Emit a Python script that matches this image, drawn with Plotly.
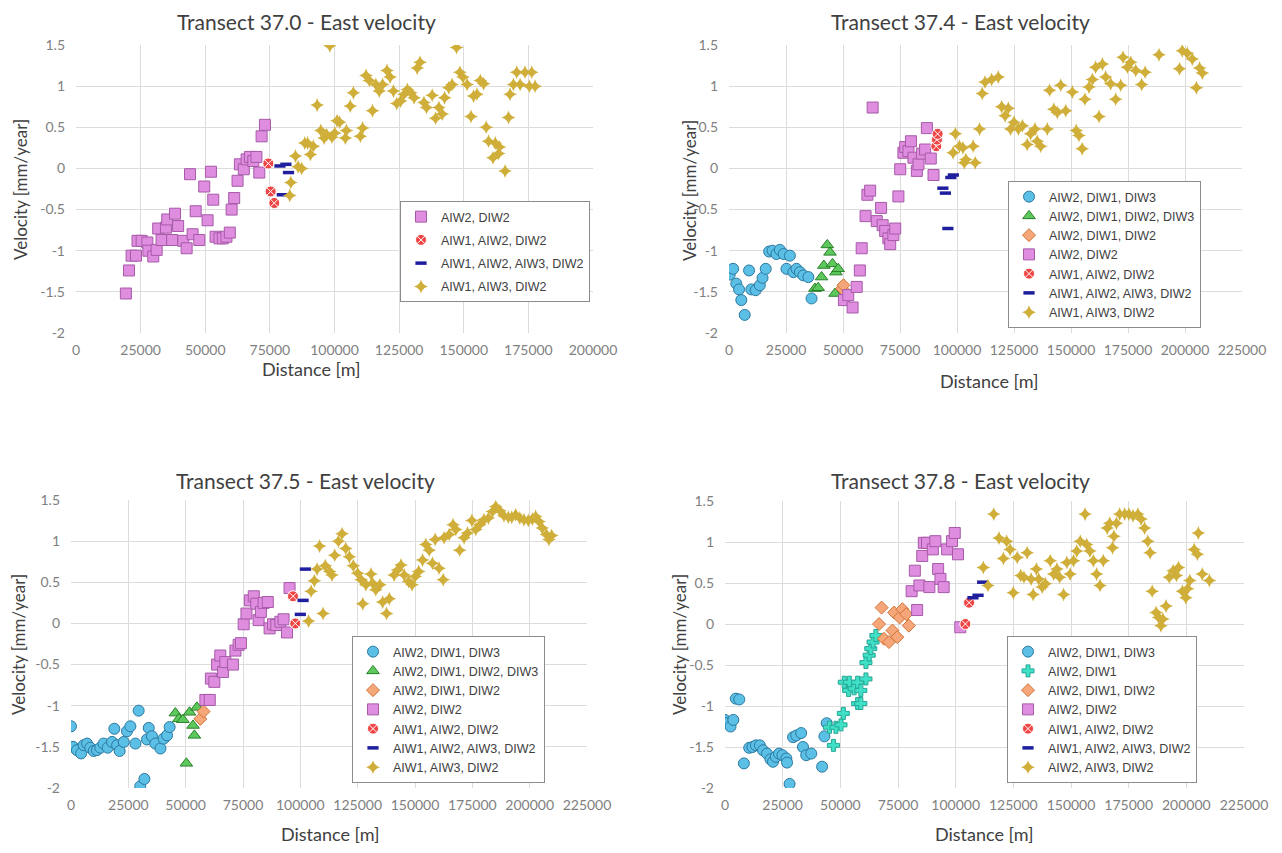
import plotly.graph_objects as go

# ---------------- DATA ----------------
# Transect 37.0
t370_aiw2_diw2_x = [19300, 20500, 21500, 23200, 23800, 25400, 27600, 28000, 29900, 31200, 31800, 33100, 34800, 35300, 37200, 38300, 39500, 41500, 42800, 44100, 45100, 46300, 47700, 49600, 50900, 52200, 53100, 54000, 55500, 56800, 58200, 59500, 60200, 61200, 62500, 63400, 64900, 66000, 67300, 68600, 69800, 70900, 71800, 73100]
t370_aiw2_diw2_y = [-1.52, -1.24, -1.06, -1.06, -0.88, -0.88, -0.90, -1.00, -1.07, -0.99, -0.73, -0.87, -0.72, -0.62, -0.87, -0.55, -0.70, -0.88, -0.97, -0.07, -0.80, -0.52, -0.87, -0.22, -0.63, -0.04, -0.38, -0.83, -0.85, -0.85, -0.83, -0.78, -0.50, -0.36, -0.15, 0.05, -0.01, 0.11, 0.14, 0.09, 0.14, -0.05, 0.39, 0.53]
t370_aiw1_aiw2_diw2_x = [74400, 75300, 76700]
t370_aiw1_aiw2_diw2_y = [0.06, -0.28, -0.42]
t370_aiw123_diw2_x = [78900, 79800, 81200, 82200]
t370_aiw123_diw2_y = [0.03, -0.32, 0.05, -0.05]
t370_aiw1_aiw3_diw2_x = [82700, 83100, 84900, 85900, 87300, 88500, 89600, 90700, 91800, 93300, 94700, 96000, 97000, 98200, 99000, 100100, 101000, 102000, 104200, 104600, 106100, 107300, 110000, 110900, 112200, 113500, 114700, 116000, 117300, 118600, 120300, 121500, 122800, 124100, 125600, 126900, 128200, 129500, 130800, 132000, 133100, 134600, 135600, 137800, 139100, 140400, 141700, 142600, 144200, 145500, 147200, 148500, 149700, 151300, 152800, 153800, 155100, 156400, 157700, 158700, 159600, 161300, 162200, 163500, 163800, 166000, 167300, 167900, 169200, 170500, 171800, 173700, 175400, 176300, 177600]
t370_aiw1_aiw3_diw2_y = [-0.33, -0.17, 0.15, 0.02, 0.00, 0.31, 0.31, 0.17, 0.27, 0.77, 0.46, 0.37, 0.41, 1.49, 0.38, 0.43, 0.58, 0.56, 0.37, 0.46, 0.76, 0.92, 0.39, 0.49, 1.13, 1.07, 0.70, 1.02, 0.94, 1.02, 1.19, 1.11, 0.94, 0.79, 0.82, 0.90, 0.96, 0.92, 0.86, 1.22, 1.29, 0.80, 0.74, 0.89, 0.61, 0.74, 0.66, 0.86, 0.98, 1.02, 1.47, 1.17, 1.11, 1.02, 0.63, 0.88, 0.90, 1.07, 1.03, 0.50, 0.33, 0.13, 0.31, 0.18, 0.26, -0.03, 0.62, 0.90, 1.02, 1.17, 1.02, 1.17, 1.00, 1.17, 1.00]

# Transect 37.4
t374_aiw2_diw1_diw3_x = [300, 1800, 3200, 4400, 5400, 6900, 8800, 9800, 11700, 13500, 14700, 16100, 17600, 19100, 20800, 22300, 24000, 25200, 26700, 28200, 29600, 31100, 32600, 34800, 36200]
t374_aiw2_diw1_diw3_y = [-1.29, -1.22, -1.40, -1.47, -1.60, -1.78, -1.24, -1.47, -1.48, -1.42, -1.33, -1.22, -1.01, -1.00, -1.04, -0.99, -1.04, -1.22, -1.06, -1.26, -1.22, -1.26, -1.30, -1.32, -1.58]
t374_aiw2_diw123_x = [37700, 39100, 40600, 41600, 43100, 44300, 45400, 46500, 46900, 47900]
t374_aiw2_diw123_y = [-1.46, -1.45, -1.32, -1.18, -0.93, -1.02, -1.16, -1.52, -1.26, -1.22]
t374_aiw2_diw1_diw2_x = [49600, 50200]
t374_aiw2_diw1_diw2_y = [-1.46, -1.42]
t374_aiw2_diw2_x = [50400, 52300, 54200, 56000, 57400, 58200, 59900, 60700, 61900, 63000, 64800, 66700, 67400, 68500, 69900, 70700, 72100, 72900, 74300, 75100, 76500, 77300, 78700, 79800, 80900, 82400, 83100, 84600, 86000, 86800, 88500, 89700]
t374_aiw2_diw2_y = [-1.60, -1.54, -1.69, -1.44, -1.24, -0.97, -0.58, -0.32, -0.27, 0.74, -0.64, -0.48, -0.69, -0.76, -0.85, -0.92, -0.81, -0.73, -0.34, -0.01, 0.19, 0.26, 0.21, 0.33, 0.13, -0.03, 0.05, 0.18, 0.23, 0.49, 0.12, -0.08]
t374_aiw1_aiw2_diw2_x = [90900, 91200, 91500]
t374_aiw1_aiw2_diw2_y = [0.27, 0.35, 0.42]
t374_aiw123_diw2_x = [93800, 94900, 96000, 97300, 98400]
t374_aiw123_diw2_y = [-0.24, -0.30, -0.73, -0.11, -0.08]
t374_aiw1_aiw3_diw2_x = [98300, 99300, 101100, 102600, 103200, 103900, 107100, 108000, 109900, 111100, 112300, 115200, 118100, 119600, 121100, 122500, 123500, 125000, 126900, 128700, 130800, 132300, 134200, 135200, 136700, 139600, 140600, 142500, 144000, 145500, 147700, 150600, 152300, 153500, 154900, 156100, 157900, 159400, 160800, 162300, 163800, 165200, 167400, 169600, 171800, 172800, 174700, 176200, 178400, 181000, 182500, 188600, 197600, 198800, 201000, 203200, 205000, 206400, 207600]
t374_aiw1_aiw3_diw2_y = [0.19, 0.42, 0.27, 0.25, 0.07, 0.11, 0.27, 0.07, 0.48, 0.91, 1.05, 1.08, 1.11, 0.75, 0.64, 0.73, 0.48, 0.56, 0.48, 0.52, 0.29, 0.42, 0.48, 0.33, 0.27, 0.48, 0.95, 0.72, 0.68, 1.01, 0.70, 0.93, 0.46, 0.40, 0.24, 0.84, 0.99, 1.08, 1.23, 0.63, 1.27, 1.11, 1.03, 0.84, 1.01, 1.35, 1.23, 1.29, 1.19, 1.02, 1.17, 1.38, 1.21, 1.43, 1.40, 1.33, 0.98, 1.22, 1.16]

# Transect 37.5
t375_aiw2_diw1_diw3_x = [0, 900, 2600, 4400, 5500, 7000, 8400, 9900, 11300, 12800, 14200, 16000, 17900, 18900, 20100, 21200, 23000, 24400, 25900, 28100, 29500, 30200, 32000, 33100, 33900, 35300, 36800, 39000, 40400, 41900, 43000]
t375_aiw2_diw1_diw3_y = [-1.25, -1.50, -1.54, -1.58, -1.48, -1.46, -1.51, -1.55, -1.54, -1.51, -1.46, -1.51, -1.44, -1.28, -1.48, -1.55, -1.44, -1.31, -1.25, -1.46, -1.06, -1.98, -1.89, -1.41, -1.27, -1.37, -1.46, -1.52, -1.40, -1.36, -1.26]
t375_aiw2_diw123_x = [45500, 47000, 48800, 50300, 51700, 53200, 53800, 54900]
t375_aiw2_diw123_y = [-1.09, -1.16, -1.17, -1.70, -1.08, -1.24, -1.36, -1.02]
t375_aiw2_diw1_diw2_x = [56400, 57800]
t375_aiw2_diw1_diw2_y = [-1.16, -1.07]
t375_aiw2_diw2_x = [58600, 60500, 61000, 62500, 63700, 65100, 66300, 67300, 70600, 71700, 73100, 74100, 75300, 76500, 78000, 79700, 80800, 81800, 82800, 84000, 85800, 86600, 88100, 89500, 91300, 92700, 94200, 95300]
t375_aiw2_diw2_y = [-0.93, -0.93, -0.67, -0.71, -0.50, -0.39, -0.59, -0.47, -0.50, -0.33, -0.26, -0.24, -0.01, 0.12, 0.28, 0.33, 0.24, 0.04, 0.14, 0.25, 0.26, -0.06, -0.01, -0.02, 0.02, 0.05, -0.11, 0.43]
t375_aiw1_aiw2_diw2_x = [96800, 97800]
t375_aiw1_aiw2_diw2_y = [0.33, 0.00]
t375_aiw123_diw2_x = [100000, 101200, 102200]
t375_aiw123_diw2_y = [0.11, 0.28, 0.66]
t375_aiw1_aiw3_diw2_x = [103600, 104700, 106100, 107300, 108400, 109900, 110900, 112800, 113800, 115000, 116600, 118200, 119800, 121400, 123100, 125000, 126500, 127200, 128600, 130800, 131500, 132900, 134700, 135900, 137600, 138800, 140900, 142400, 143900, 145300, 147200, 148700, 150100, 151600, 153300, 154700, 156200, 157600, 158800, 160500, 162300, 162700, 164900, 166600, 167800, 169500, 171400, 172900, 174800, 176500, 178200, 180100, 182000, 183800, 185200, 187000, 188800, 190700, 192200, 193900, 195700, 197500, 199400, 201200, 202600, 204100, 205500, 207300, 208400, 209600]
t375_aiw1_aiw3_diw2_y = [0.03, 0.39, 0.52, 0.66, 0.94, 0.12, 0.70, 0.63, 0.59, 0.83, 1.00, 1.09, 0.91, 0.81, 0.70, 0.61, 0.53, 0.24, 0.47, 0.60, 0.49, 0.41, 0.47, 0.26, 0.12, 0.30, 0.59, 0.65, 0.71, 0.59, 0.51, 0.47, 0.57, 0.63, 0.77, 0.96, 0.89, 0.73, 1.02, 0.67, 0.53, 1.04, 1.08, 1.20, 1.14, 0.89, 1.04, 1.10, 1.25, 1.14, 1.20, 1.26, 1.28, 1.36, 1.42, 1.37, 1.31, 1.29, 1.29, 1.32, 1.28, 1.26, 1.25, 1.27, 1.30, 1.24, 1.16, 1.08, 1.02, 1.07]

# Transect 37.8
t378_aiw2_diw1_diw3_x = [0, 700, 2400, 3600, 4700, 6200, 8200, 10500, 11900, 13400, 15100, 16500, 18200, 19700, 20800, 22000, 23400, 24900, 26600, 26900, 28000, 29500, 30900, 33000, 33800, 35200, 37400, 42100, 43100, 44100]
t378_aiw2_diw1_diw3_y = [-1.17, -1.21, -1.25, -1.17, -0.91, -0.92, -1.70, -1.51, -1.50, -1.48, -1.48, -1.54, -1.58, -1.65, -1.68, -1.62, -1.58, -1.60, -1.64, -1.69, -1.95, -1.38, -1.36, -1.33, -1.50, -1.60, -1.58, -1.74, -1.37, -1.21]
t378_aiw2_diw1_x = [45300, 47000, 48100, 50300, 51300, 51700, 53600, 53900, 56000, 57500, 57500, 58900, 58900, 61100, 61100, 62500, 63200, 64200, 65400]
t378_aiw2_diw1_y = [-1.26, -1.48, -1.26, -1.23, -1.09, -0.71, -0.81, -0.71, -0.79, -0.97, -0.71, -0.97, -0.81, -0.67, -0.47, -0.38, -0.30, -0.22, -0.14]
t378_aiw2_diw1_diw2_x = [66800, 67900, 68900, 71100, 72600, 73300, 74700, 75700, 76900, 78600, 79700]
t378_aiw2_diw1_diw2_y = [0.00, 0.20, -0.18, -0.22, -0.08, 0.14, -0.16, 0.08, 0.18, 0.12, -0.02]
t378_aiw2_diw2_x = [80900, 82300, 83300, 84300, 85500, 86200, 87600, 88600, 90100, 91200, 92400, 93400, 94800, 96300, 98400, 99600, 101000, 102000]
t378_aiw2_diw2_y = [0.40, 0.65, 0.17, 0.47, 0.83, 0.99, 0.99, 0.45, 0.91, 1.01, 0.67, 0.55, 0.45, 0.91, 1.01, 1.11, 0.85, -0.04]
t378_aiw1_aiw2_diw2_x = [104200, 105800]
t378_aiw1_aiw2_diw2_y = [0.00, 0.26]
t378_aiw123_diw2_x = [107500, 109700, 111700]
t378_aiw123_diw2_y = [0.32, 0.35, 0.51]
t378_aiw2_aiw3_diw2_x = [112000, 114000, 116500, 118800, 120700, 122100, 123600, 125000, 126700, 128200, 129600, 131000, 132700, 133600, 135000, 136000, 137500, 138900, 141000, 142500, 143900, 145100, 146800, 148200, 149600, 151100, 152500, 154000, 156100, 156800, 158200, 159700, 161100, 162600, 164000, 165700, 166800, 168000, 168600, 169700, 171100, 173300, 175100, 176900, 179000, 180400, 181900, 183300, 184300, 185200, 186900, 188000, 189000, 189800, 191200, 192600, 194300, 195700, 196600, 198300, 199800, 200500, 201500, 203400, 204800, 205200, 206900, 210000]
t378_aiw2_aiw3_diw2_y = [0.69, 0.47, 1.34, 1.05, 0.80, 1.01, 0.91, 0.38, 0.81, 0.59, 0.57, 0.87, 0.55, 0.36, 0.67, 0.55, 0.45, 0.49, 0.77, 0.61, 0.67, 0.57, 0.36, 0.75, 0.61, 0.77, 0.89, 1.01, 1.34, 0.97, 0.89, 0.77, 0.61, 0.47, 0.77, 1.17, 1.23, 0.93, 1.07, 1.23, 1.34, 1.34, 1.34, 1.32, 1.34, 1.28, 1.17, 1.01, 0.87, 0.40, 0.14, 0.08, -0.02, 0.06, 0.22, 0.57, 0.65, 0.59, 0.69, 0.40, 0.32, 0.43, 0.53, 0.91, 0.85, 1.11, 0.61, 0.53]

panel_titles = ["Transect 37.0 - East velocity", "Transect 37.4 - East velocity",
                "Transect 37.5 - East velocity", "Transect 37.8 - East velocity"]
y_tickvals = [-2, -1.5, -1, -0.5, 0, 0.5, 1, 1.5]
y_ticktext = ["-2", "-1.5", "-1", "-0.5", "0", "0.5", "1", "1.5"]
x_title = "Distance [m]"
y_title = "Velocity [mm/year]"

# ---------------- STYLES ----------------
STY = {
    "circ": dict(symbol="circle", size=11, color="#5BBFE6", line=dict(color="#2B79A0", width=1)),
    "tri": dict(symbol="triangle-up", size=11, color="#5DC95D", line=dict(color="#2A7F2A", width=1)),
    "dia": dict(symbol="diamond", size=10, color="#F5A779", line=dict(color="#D2743A", width=1)),
    "sq": dict(symbol="square", size=11, color="#DF8EDF", line=dict(color="#A65AA8", width=1)),
    "rx": dict(symbol="circle-x", size=11, color="#F04545", line=dict(color="#FFFFFF", width=1)),
    "dash": dict(symbol="line-ew", size=8, color="#1E1E9E", line=dict(color="#1E1E9E", width=3.5)),
    "gold": dict(symbol="star-diamond", size=10, color="#CFAE3A", line=dict(width=0)),
    "teal": dict(symbol="cross", size=10, color="#3FE0C6", line=dict(color="#25A897", width=1)),
}

panels = [
    [("AIW2, DIW2", t370_aiw2_diw2_x, t370_aiw2_diw2_y, "sq"),
     ("AIW1, AIW2, DIW2", t370_aiw1_aiw2_diw2_x, t370_aiw1_aiw2_diw2_y, "rx"),
     ("AIW1, AIW2, AIW3, DIW2", t370_aiw123_diw2_x, t370_aiw123_diw2_y, "dash"),
     ("AIW1, AIW3, DIW2", t370_aiw1_aiw3_diw2_x, t370_aiw1_aiw3_diw2_y, "gold")],
    [("AIW2, DIW1, DIW3", t374_aiw2_diw1_diw3_x, t374_aiw2_diw1_diw3_y, "circ"),
     ("AIW2, DIW1, DIW2, DIW3", t374_aiw2_diw123_x, t374_aiw2_diw123_y, "tri"),
     ("AIW2, DIW1, DIW2", t374_aiw2_diw1_diw2_x, t374_aiw2_diw1_diw2_y, "dia"),
     ("AIW2, DIW2", t374_aiw2_diw2_x, t374_aiw2_diw2_y, "sq"),
     ("AIW1, AIW2, DIW2", t374_aiw1_aiw2_diw2_x, t374_aiw1_aiw2_diw2_y, "rx"),
     ("AIW1, AIW2, AIW3, DIW2", t374_aiw123_diw2_x, t374_aiw123_diw2_y, "dash"),
     ("AIW1, AIW3, DIW2", t374_aiw1_aiw3_diw2_x, t374_aiw1_aiw3_diw2_y, "gold")],
    [("AIW2, DIW1, DIW3", t375_aiw2_diw1_diw3_x, t375_aiw2_diw1_diw3_y, "circ"),
     ("AIW2, DIW1, DIW2, DIW3", t375_aiw2_diw123_x, t375_aiw2_diw123_y, "tri"),
     ("AIW2, DIW1, DIW2", t375_aiw2_diw1_diw2_x, t375_aiw2_diw1_diw2_y, "dia"),
     ("AIW2, DIW2", t375_aiw2_diw2_x, t375_aiw2_diw2_y, "sq"),
     ("AIW1, AIW2, DIW2", t375_aiw1_aiw2_diw2_x, t375_aiw1_aiw2_diw2_y, "rx"),
     ("AIW1, AIW2, AIW3, DIW2", t375_aiw123_diw2_x, t375_aiw123_diw2_y, "dash"),
     ("AIW1, AIW3, DIW2", t375_aiw1_aiw3_diw2_x, t375_aiw1_aiw3_diw2_y, "gold")],
    [("AIW2, DIW1, DIW3", t378_aiw2_diw1_diw3_x, t378_aiw2_diw1_diw3_y, "circ"),
     ("AIW2, DIW1", t378_aiw2_diw1_x, t378_aiw2_diw1_y, "teal"),
     ("AIW2, DIW1, DIW2", t378_aiw2_diw1_diw2_x, t378_aiw2_diw1_diw2_y, "dia"),
     ("AIW2, DIW2", t378_aiw2_diw2_x, t378_aiw2_diw2_y, "sq"),
     ("AIW1, AIW2, DIW2", t378_aiw1_aiw2_diw2_x, t378_aiw1_aiw2_diw2_y, "rx"),
     ("AIW1, AIW2, AIW3, DIW2", t378_aiw123_diw2_x, t378_aiw123_diw2_y, "dash"),
     ("AIW2, AIW3, DIW2", t378_aiw2_aiw3_diw2_x, t378_aiw2_aiw3_diw2_y, "gold")],
]

# The page body has an 8px margin, so the figure is 16px smaller than the window
OFF = 8
W, H = 1282 - 2 * OFF, 853 - 2 * OFF
def px(x): return (x - OFF) / W
def py(y): return 1 - (y - OFF) / H

# plot areas in window pixels: (left, right, top, bottom), x max
areas = [(76, 593, 45, 333, 200000), (729, 1242, 45, 333, 225000),
         (71, 587, 500, 788, 225000), (725, 1244, 501, 788, 225000)]
legend_pos = [(400, 201), (1008, 181), (352, 636), (1007, 636)]
title_pos = [(306, 21.5), (960, 21.5), (305, 480), (960, 480)]
xtitle_pos = [(311, 369), (989, 381), (330, 834), (984, 834)]
ytitle_pos = [(20, 190), (689, 190), (18, 645), (679, 645)]

fig = go.Figure()
layout = dict(width=W, height=H, autosize=False,
              margin=dict(l=0, r=0, t=0, b=0, pad=0, autoexpand=False),
              paper_bgcolor="white", plot_bgcolor="white", annotations=[])

for i, series in enumerate(panels):
    n = i + 1
    xa = "x" if n == 1 else f"x{n}"
    ya = "y" if n == 1 else f"y{n}"
    lg = "legend" if n == 1 else f"legend{n}"
    for j, (name, xs, ys, st) in enumerate(series):
        s = STY[st]
        fig.add_trace(go.Scatter(
            x=xs, y=ys, mode="markers", name=name, xaxis=xa, yaxis=ya, legend=lg,
            legendgroup=f"p{n}g{j}" if n == 1 else None,
            marker=dict(symbol=s["symbol"], size=s["size"], color=s["color"], line=s["line"]),
        ))
    l, r, t, b, xmax = areas[i]
    key_x = "xaxis" if n == 1 else f"xaxis{n}"
    key_y = "yaxis" if n == 1 else f"yaxis{n}"
    layout[key_x] = dict(domain=[px(l), px(r)], anchor=ya, range=[0, xmax], dtick=25000,
                         tick0=0, tickformat="d", showgrid=True, gridcolor="#DCDCDC",
                         zeroline=False, showline=False, ticks="", automargin=False,
                         tickfont=dict(family="Lato", size=14, color="#7F7F7F"),
                         ticklabelstandoff=7)
    layout[key_y] = dict(domain=[py(b), py(t)], anchor=xa, range=[-2, 1.5],
                         tickvals=y_tickvals, ticktext=y_ticktext, showgrid=True,
                         gridcolor="#DCDCDC", zeroline=False, showline=False, ticks="",
                         automargin=False,
                         tickfont=dict(family="Lato", size=14, color="#7F7F7F"),
                         ticklabelstandoff=10)
    lx, ly = legend_pos[i]
    layout[lg] = dict(x=px(lx), y=py(ly), xanchor="left", yanchor="top",
                      bgcolor="white", bordercolor="#8C8C8C", borderwidth=1,
                      font=dict(family="Liberation Sans", size=12.5, color="#404040"),
                      tracegroupgap=4 if n == 1 else 0, itemwidth=30)
    tx, ty = title_pos[i]
    layout["annotations"].append(dict(text=panel_titles[i], x=px(tx), y=py(ty), xref="paper",
                                      yref="paper", showarrow=False, xanchor="center",
                                      yanchor="middle",
                                      font=dict(family="Lato", size=21, color="#404040")))
    ax_, ay_ = xtitle_pos[i]
    layout["annotations"].append(dict(text=x_title, x=px(ax_), y=py(ay_), xref="paper",
                                      yref="paper", showarrow=False, xanchor="center",
                                      yanchor="middle",
                                      font=dict(family="Lato", size=18, color="#404040")))
    yx, yy = ytitle_pos[i]
    layout["annotations"].append(dict(text=y_title, x=px(yx), y=py(yy), xref="paper",
                                      yref="paper", showarrow=False, xanchor="center",
                                      yanchor="middle", textangle=-90,
                                      font=dict(family="Lato", size=17, color="#404040")))

fig.update_layout(**layout)
fig.write_html("out.html")
